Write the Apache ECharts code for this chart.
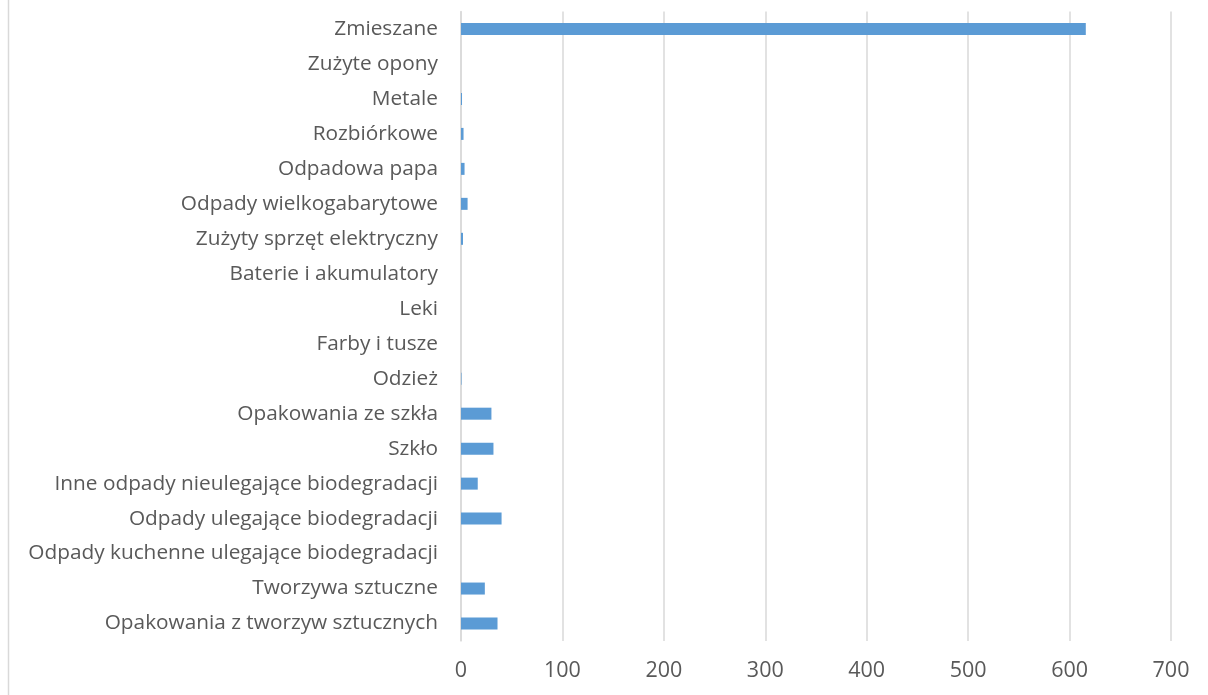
<!DOCTYPE html>
<html><head><meta charset="utf-8">
<script src="https://cdn.jsdelivr.net/npm/echarts@6/dist/echarts.min.js"></script>
<style>html,body{margin:0;padding:0;background:#fff}#c{width:1208px;height:695px}</style>
</head><body><div id="c"></div>
<script>
const categories = [
  "Opakowania z tworzyw sztucznych",
  "Tworzywa sztuczne",
  "Odpady kuchenne ulegające biodegradacji",
  "Odpady ulegające biodegradacji",
  "Inne odpady nieulegające biodegradacji",
  "Szkło",
  "Opakowania ze szkła",
  "Odzież",
  "Farby i tusze",
  "Leki",
  "Baterie i akumulatory",
  "Zużyty sprzęt elektryczny",
  "Odpady wielkogabarytowe",
  "Odpadowa papa",
  "Rozbiórkowe",
  "Metale",
  "Zużyte opony",
  "Zmieszane"
];
const values = [36, 23.5, 0, 40, 16.5, 32, 30, 0.5, 0, 0, 0, 2, 6.5, 3.5, 2.5, 1, 0, 616];
const xTicks = [0, 100, 200, 300, 400, 500, 600, 700];

const chart = echarts.init(document.getElementById('c'));
chart.setOption({
  animation: false,
  backgroundColor: '#fff',
  grid: {left: 461, right: 37, top: 11.5, bottom: 54, containLabel: false},
  xAxis: {
    type: 'value', min: xTicks[0], max: xTicks[xTicks.length-1], interval: 100,
    axisLine: {show: false}, axisTick: {show: false},
    splitLine: {show: true, lineStyle: {color: '#d9d9d9', width: 1.5}},
    axisLabel: {color: '#595959', fontSize: 21.5, fontFamily: 'Open Sans', margin: 19}
  },
  yAxis: {
    type: 'category', data: categories,
    axisLine: {show: true, lineStyle: {color: '#d9d9d9', width: 1.5}},
    axisTick: {show: false},
    axisLabel: {color: '#595959', fontSize: 20.8, fontFamily: 'Open Sans', margin: 23}
  },
  series: [{
    type: 'bar', data: values, barWidth: 12,
    itemStyle: {color: '#5b9bd5'}
  }],
  graphic: [{
    type: 'line', shape: {x1: 8.5, y1: 0, x2: 8.5, y2: 695},
    style: {stroke: '#d9d9d9', lineWidth: 1.5}
  }]
});
</script></body></html>
